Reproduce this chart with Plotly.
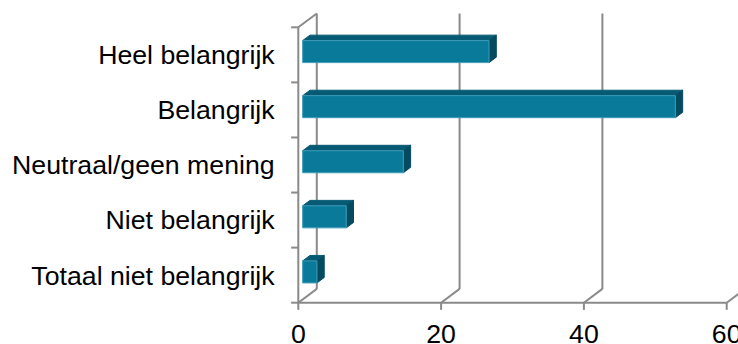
import plotly.graph_objects as go

# Survey answers, listed bottom to top as they appear on the axis
categories = [
    "Totaal niet belangrijk",
    "Niet belangrijk",
    "Neutraal/geen mening",
    "Belangrijk",
    "Heel belangrijk",
]
values = [2.0, 6.1, 14.1, 52.2, 26.1]
x_ticks = [0, 20, 40, 60]

# Oblique 3D look: shift for the full depth of the box, in data units
DX = 2.59      # horizontal shift (value units)
DY = 0.2505    # vertical shift (category-band units)
BAR_D0, BAR_D1 = 0.235, 0.63   # bar depth span (fraction of box depth)
HALF_H = 0.2                   # half bar height (band units)

GRID = "#8a8a8a"
FRONT = "#0a7a9b"
TOP = "#065a73"
SIDE = "#054b5f"
FONT = "Liberation Sans, Arial, sans-serif"

n = len(categories)
xmax = x_ticks[-1]

fig = go.Figure()


def line(xs, ys, width=2):
    fig.add_trace(go.Scatter(
        x=xs, y=ys, mode="lines", hoverinfo="skip", showlegend=False,
        line=dict(color=GRID, width=width),
    ))


def poly(xs, ys, fill, edge=None):
    fig.add_trace(go.Scatter(
        x=xs + [xs[0]], y=ys + [ys[0]], mode="lines", fill="toself",
        fillcolor=fill, hoverinfo="skip", showlegend=False,
        line=dict(color=edge or fill, width=1),
    ))


# back wall gridlines and floor diagonals
for t in x_ticks:
    line([t + DX, t + DX], [DY, n + DY])
    line([t, t + DX], [0, DY])
    line([t, t], [0, -0.13])           # tick mark below the floor edge

# front floor edge and left axis with its top diagonal
line([0, xmax], [0, 0])
line([0, 0], [0, n])
line([0, DX], [n, n + DY])
for b in range(n + 1):
    line([-1.0, 0], [b, b])            # category boundary ticks

# bars: front, top and right-hand faces
for i, v in enumerate(values):
    c = i + 0.5
    x0f, x1f = BAR_D0 * DX, v + BAR_D0 * DX
    x0b, x1b = BAR_D1 * DX, v + BAR_D1 * DX
    yb0, yt0 = c - HALF_H + BAR_D0 * DY, c + HALF_H + BAR_D0 * DY
    yb1, yt1 = c - HALF_H + BAR_D1 * DY, c + HALF_H + BAR_D1 * DY
    poly([x0f, x1f, x1b, x0b], [yt0, yt0, yt1, yt1], TOP)
    poly([x1f, x1b, x1b, x1f], [yb0, yb1, yt1, yt0], SIDE)
    poly([x0f, x1f, x1f, x0f], [yb0, yb0, yt0, yt0], FRONT, "#3f9cb9")

fig.update_layout(
    width=738, height=344,
    margin=dict(l=290, r=0, t=5, b=32, autoexpand=False),
    paper_bgcolor="white", plot_bgcolor="white",
    showlegend=False,
    font=dict(family=FONT, size=26.7, color="black"),
    xaxis=dict(
        range=[-1.1625, 61.583], showgrid=False, zeroline=False,
        showline=False, tickmode="array", tickvals=x_ticks,
        ticktext=[str(t) for t in x_ticks], automargin=False,
        ticklabeloverflow="allow", ticks="", ticklabelstandoff=3,
    ),
    yaxis=dict(
        range=[-0.1688, 5.405], showgrid=False, zeroline=False,
        showline=False, tickmode="array", automargin=False,
        tickvals=[i + 0.5 for i in range(n)], ticktext=categories,
        ticklabeloverflow="allow",
        ticks="outside", ticklen=9, tickcolor="rgba(0,0,0,0)",
    ),
)

fig.write_html("out.html")
